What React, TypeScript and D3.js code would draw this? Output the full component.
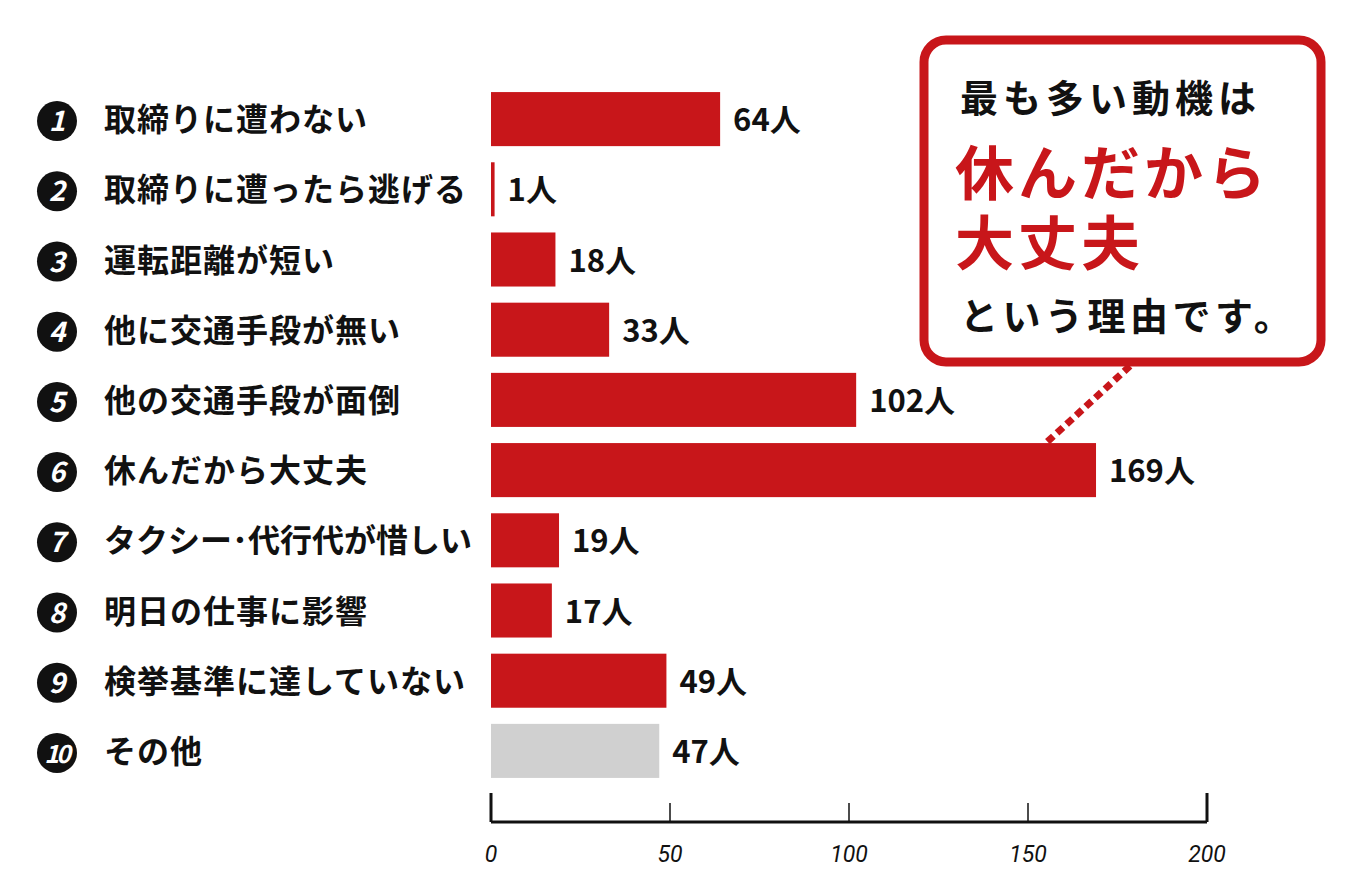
import * as d3 from "d3";

// data
const labels = [
  "取締りに遭わない",
  "取締りに遭ったら逃げる",
  "運転距離が短い",
  "他に交通手段が無い",
  "他の交通手段が面倒",
  "休んだから大丈夫",
  "タクシー･代行代が惜しい",
  "明日の仕事に影響",
  "検挙基準に達していない",
  "その他",
];
const counts = [64, 1, 18, 33, 102, 169, 19, 17, 49, 47];
const xTicks = [0, 50, 100, 150, 200];

const RED = "#c8161a";
const GRAY = "#d0d0d0";
const FONT = "'Noto Sans CJK JP', 'Noto Sans', sans-serif";

export default function App() {
  const width = 1360;
  const height = 880;

  const x = d3.scaleLinear().domain([0, 200]).range([491, 1207]);
  const y = d3
    .scaleBand()
    .domain(labels)
    .range([84, 786])
    .paddingInner(0.23)
    .paddingOuter(0.115);

  const axisY = 822;

  return (
    <svg
      width={width}
      height={height}
      style={{ position: "absolute", left: 0, top: 0, background: "#fff" }}
      fontFamily={FONT}
    >
      {/* rows */}
      {labels.map((label, i) => {
        const y0 = y(label)!;
        const cy = y0 + y.bandwidth() / 2;
        const isOther = i === labels.length - 1;
        return (
          <g key={label}>
            <circle cx={57} cy={cy + 2} r={20} fill="#111" />
            <text
              x={i === 9 ? 56 : 57}
              y={cy + 12}
              textAnchor="middle"
              fill="#fff"
              fontSize={i === 9 ? 25 : 28}
              fontWeight="bold"
              fontStyle="italic"
              letterSpacing={i === 9 ? -3 : 0}
            >
              {i + 1}
            </text>
            <text
              x={104}
              y={cy + 12}
              fontSize={32}
              fontWeight="bold"
              fill="#111"
              letterSpacing={i === 6 ? 0 : 1}
            >
              {label}
            </text>
            <rect
              x={x(0)}
              y={y0}
              width={Math.max(x(counts[i]) - x(0), 3)}
              height={y.bandwidth()}
              fill={isOther ? GRAY : RED}
            />
            <text
              x={Math.max(x(counts[i]), x(0) + 3) + 13}
              y={cy + 12}
              fontSize={31}
              fontWeight="bold"
              fill="#111"
            >
              {counts[i]}人
            </text>
          </g>
        );
      })}

      {/* axis */}
      <line x1={x(0)} x2={x(200)} y1={axisY} y2={axisY} stroke="#111" strokeWidth={3} />
      {xTicks.map((t, i) => {
        const end = i === 0 || i === xTicks.length - 1;
        return (
          <g key={t}>
            <line
              x1={x(t)}
              x2={x(t)}
              y1={end ? axisY - 29 : axisY - 19}
              y2={axisY}
              stroke="#111"
              strokeWidth={end ? 3 : 1.5}
            />
            <text
              x={x(t)}
              y={axisY + 40}
              textAnchor="middle"
              fontSize={23}
              fontStyle="italic"
              fill="#111"
              fontFamily="'Liberation Sans Narrow', 'Roboto', sans-serif"
            >
              {t}
            </text>
          </g>
        );
      })}

      {/* callout */}
      <line
        x1={1130}
        y1={366}
        x2={1046}
        y2={443}
        stroke={RED}
        strokeWidth={7}
        strokeDasharray="8 5"
      />
      <rect
        x={924}
        y={40}
        width={397}
        height={322}
        rx={22}
        fill="#fff"
        stroke={RED}
        strokeWidth={9}
      />
      <text x={960} y={112} fontSize={38} fontWeight="bold" fill="#111" letterSpacing={5}>
        最も多い動機は
      </text>
      <text fontSize={59} fontWeight="bold" fill={RED} letterSpacing={4}>
        <tspan x={955} y={195}>休んだから</tspan>
        <tspan x={955} y={265}>大丈夫</tspan>
      </text>
      <text x={960} y={330} fontSize={38} fontWeight="bold" fill="#111" letterSpacing={4.5}>
        という理由です。
      </text>
    </svg>
  );
}
